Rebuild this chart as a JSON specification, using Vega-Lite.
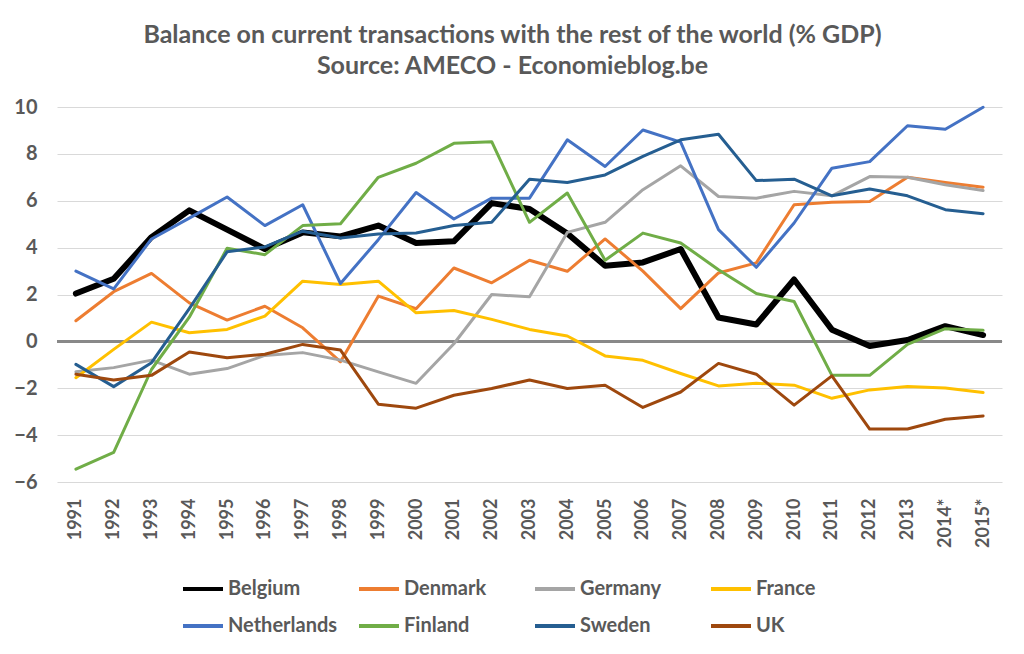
{
  "$schema": "https://vega.github.io/schema/vega-lite/v6.json",
  "width": 945,
  "height": 375,
  "autosize": {"type": "none"},
  "padding": {"left": 57, "top": 107, "right": 22, "bottom": 172},
  "background": "white",
  "config": {
    "font": "Lato",
    "view": {"stroke": null},
    "axis": {"labelFont": "Lato", "labelFontWeight": "bold", "labelColor": "#595959", "titleColor": "#595959"}
  },
  "title": {
    "text": ["Balance on current transactions with the rest of the world (% GDP)", "Source: AMECO - Economieblog.be"],
    "fontSize": 25,
    "fontWeight": "bold",
    "color": "#595959",
    "font": "Lato",
    "lineHeight": 31,
    "anchor": "middle",
    "frame": "group",
    "dx": -17,
    "offset": 18
  },
  "data": {
    "values": [
      {"year": "1991", "Belgium": 2.04, "Denmark": 0.88, "Germany": -1.3, "France": -1.55, "Netherlands": 3.0, "Finland": -5.45, "Sweden": -0.98, "UK": -1.4},
      {"year": "1992", "Belgium": 2.67, "Denmark": 2.12, "Germany": -1.12, "France": -0.34, "Netherlands": 2.24, "Finland": -4.74, "Sweden": -1.93, "UK": -1.65},
      {"year": "1993", "Belgium": 4.45, "Denmark": 2.9, "Germany": -0.8, "France": 0.82, "Netherlands": 4.37, "Finland": -1.2, "Sweden": -0.91, "UK": -1.45},
      {"year": "1994", "Belgium": 5.59, "Denmark": 1.64, "Germany": -1.4, "France": 0.37, "Netherlands": 5.26, "Finland": 1.03, "Sweden": 1.4, "UK": -0.45},
      {"year": "1995", "Belgium": 4.77, "Denmark": 0.91, "Germany": -1.16, "France": 0.51, "Netherlands": 6.16, "Finland": 3.97, "Sweden": 3.82, "UK": -0.7},
      {"year": "1996", "Belgium": 3.94, "Denmark": 1.5, "Germany": -0.6, "France": 1.08, "Netherlands": 4.94, "Finland": 3.7, "Sweden": 4.03, "UK": -0.55},
      {"year": "1997", "Belgium": 4.65, "Denmark": 0.58, "Germany": -0.48, "France": 2.57, "Netherlands": 5.83, "Finland": 4.94, "Sweden": 4.7, "UK": -0.13},
      {"year": "1998", "Belgium": 4.48, "Denmark": -0.87, "Germany": -0.8, "France": 2.43, "Netherlands": 2.47, "Finland": 5.02, "Sweden": 4.41, "UK": -0.37},
      {"year": "1999", "Belgium": 4.94, "Denmark": 1.93, "Germany": -1.3, "France": 2.57, "Netherlands": 4.34, "Finland": 7.0, "Sweden": 4.58, "UK": -2.68},
      {"year": "2000", "Belgium": 4.2, "Denmark": 1.39, "Germany": -1.79, "France": 1.22, "Netherlands": 6.35, "Finland": 7.6, "Sweden": 4.62, "UK": -2.85},
      {"year": "2001", "Belgium": 4.27, "Denmark": 3.13, "Germany": -0.1, "France": 1.32, "Netherlands": 5.22, "Finland": 8.45, "Sweden": 4.94, "UK": -2.3},
      {"year": "2002", "Belgium": 5.9, "Denmark": 2.5, "Germany": 2.0, "France": 0.94, "Netherlands": 6.11, "Finland": 8.52, "Sweden": 5.08, "UK": -2.01},
      {"year": "2003", "Belgium": 5.65, "Denmark": 3.46, "Germany": 1.9, "France": 0.51, "Netherlands": 6.11, "Finland": 5.08, "Sweden": 6.92, "UK": -1.65},
      {"year": "2004", "Belgium": 4.6, "Denmark": 2.99, "Germany": 4.65, "France": 0.23, "Netherlands": 8.6, "Finland": 6.33, "Sweden": 6.78, "UK": -2.01},
      {"year": "2005", "Belgium": 3.23, "Denmark": 4.37, "Germany": 5.08, "France": -0.62, "Netherlands": 7.46, "Finland": 3.46, "Sweden": 7.1, "UK": -1.87},
      {"year": "2006", "Belgium": 3.37, "Denmark": 3.0, "Germany": 6.47, "France": -0.81, "Netherlands": 9.02, "Finland": 4.62, "Sweden": 7.89, "UK": -2.82},
      {"year": "2007", "Belgium": 3.94, "Denmark": 1.4, "Germany": 7.49, "France": -1.37, "Netherlands": 8.5, "Finland": 4.2, "Sweden": 8.6, "UK": -2.16},
      {"year": "2008", "Belgium": 1.02, "Denmark": 2.92, "Germany": 6.18, "France": -1.9, "Netherlands": 4.77, "Finland": 3.06, "Sweden": 8.84, "UK": -0.94},
      {"year": "2009", "Belgium": 0.72, "Denmark": 3.35, "Germany": 6.11, "France": -1.79, "Netherlands": 3.16, "Finland": 2.04, "Sweden": 6.86, "UK": -1.4},
      {"year": "2010", "Belgium": 2.64, "Denmark": 5.83, "Germany": 6.4, "France": -1.87, "Netherlands": 5.05, "Finland": 1.7, "Sweden": 6.92, "UK": -2.72},
      {"year": "2011", "Belgium": 0.5, "Denmark": 5.94, "Germany": 6.21, "France": -2.43, "Netherlands": 7.39, "Finland": -1.45, "Sweden": 6.21, "UK": -1.47},
      {"year": "2012", "Belgium": -0.2, "Denmark": 5.97, "Germany": 7.03, "France": -2.07, "Netherlands": 7.67, "Finland": -1.45, "Sweden": 6.5, "UK": -3.74},
      {"year": "2013", "Belgium": 0.06, "Denmark": 7.0, "Germany": 7.0, "France": -1.93, "Netherlands": 9.2, "Finland": -0.13, "Sweden": 6.21, "UK": -3.74},
      {"year": "2014*", "Belgium": 0.65, "Denmark": 6.78, "Germany": 6.68, "France": -1.99, "Netherlands": 9.05, "Finland": 0.54, "Sweden": 5.62, "UK": -3.32},
      {"year": "2015*", "Belgium": 0.27, "Denmark": 6.58, "Germany": 6.44, "France": -2.18, "Netherlands": 9.99, "Finland": 0.47, "Sweden": 5.45, "UK": -3.18}
    ]
  },
  "layer": [
    {
      "mark": {"type": "rule", "color": "#898989", "strokeWidth": 2.5},
      "encoding": {"y": {"datum": 0, "type": "quantitative", "scale": {"domain": [-6, 10], "nice": false}}}
    },
    {
      "transform": [
        {"fold": ["Belgium", "Denmark", "Germany", "France", "Netherlands", "Finland", "Sweden", "UK"], "as": ["country", "value"]}
      ],
      "mark": {"type": "line", "strokeCap": "round", "strokeJoin": "round"},
      "encoding": {
        "x": {
          "field": "year",
          "type": "ordinal",
          "scale": {"type": "point", "padding": 0.5},
          "axis": {"title": null, "labelAngle": -90, "labelAlign": "right", "labelBaseline": "middle", "labelFontSize": 18, "labelPadding": 16, "ticks": false, "domain": false, "grid": false}
        },
        "y": {
          "field": "value",
          "type": "quantitative",
          "scale": {"domain": [-6, 10], "nice": false},
          "axis": {"title": null, "values": [-6, -4, -2, 0, 2, 4, 6, 8, 10], "labelFontSize": 20, "labelPadding": 20, "ticks": false, "domain": false, "grid": true, "gridColor": "#d9d9d9", "gridWidth": 1}
        },
        "color": {
          "field": "country",
          "type": "nominal",
          "scale": {
            "domain": ["Belgium", "Denmark", "Germany", "France", "Netherlands", "Finland", "Sweden", "UK"],
            "range": ["#000000", "#ED7D31", "#A5A5A5", "#FFC000", "#4472C4", "#70AD47", "#255E91", "#9E480E"]
          },
          "legend": {
            "title": null,
            "orient": "none",
            "legendX": 124,
            "legendY": 460,
            "direction": "horizontal",
            "columns": 4,
            "gridAlign": "all",
            "columnPadding": 13,
            "rowPadding": 5,
            "symbolType": "stroke",
            "symbolSize": 1600,
            "symbolStrokeWidth": 4,
            "labelFontSize": 20,
            "labelFontWeight": "bold",
            "labelColor": "#595959",
            "labelOffset": 3,
            "labelFont": "Lato"
          }
        },
        "strokeWidth": {"condition": {"test": "datum.country === 'Belgium'", "value": 6}, "value": 3}
      }
    }
  ]
}
